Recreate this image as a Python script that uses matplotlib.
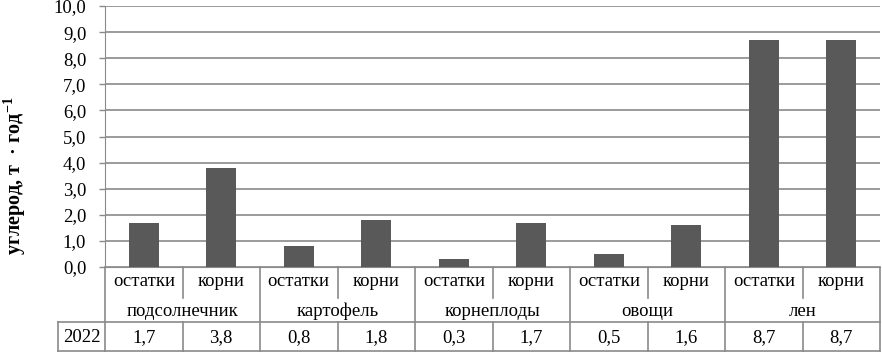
import numpy as np
import matplotlib
matplotlib.use("Agg")
import matplotlib.pyplot as plt
import matplotlib.transforms as mtransforms

serif = "Liberation Serif"
plt.rcParams['font.family'] = 'serif'
plt.rcParams['font.serif'] = [serif, 'DejaVu Serif']
plt.rcParams['mathtext.fontset'] = 'custom'
plt.rcParams['mathtext.rm'] = serif
plt.rcParams['mathtext.bf'] = serif + ':bold'

crops = ["подсолнечник", "картофель", "корнеплоды", "овощи", "лен"]
parts = ["остатки", "корни"]
year = "2022"
values = [1.7, 3.8, 0.8, 1.8, 0.3, 1.7, 0.5, 1.6, 8.7, 8.7]
value_labels = ["1,7", "3,8", "0,8", "1,8", "0,3", "1,7", "0,5", "1,6", "8,7", "8,7"]
yticks = np.arange(0, 11, 1)

line_c = "#8a8a8a"
bar_c = "#595959"
fs = 13.5

fig = plt.figure(figsize=(8.82, 3.52), dpi=100)
ax = fig.add_axes([105/882, 85/352, 775/882, 261/352])

x = np.arange(len(values))
ax.bar(x, values, width=0.39, color=bar_c, zorder=3)
ax.set_xlim(-0.5, len(values) - 0.5)
ax.set_ylim(0, 10)
ax.set_yticks(yticks)
ax.set_yticklabels([f"{v:.1f}".replace(".", ",") for v in yticks], fontsize=fs, family=serif)
ax.set_xticks([])
ax.grid(axis="y", color=line_c, linewidth=1.2, zorder=0)
for s in ["top", "right"]:
    ax.spines[s].set_visible(False)
ax.spines["left"].set_color(line_c)
ax.spines["bottom"].set_color(line_c)
ax.tick_params(axis="y", color=line_c, length=4.5, width=1, pad=9)

tr = mtransforms.blended_transform_factory(ax.transData, ax.transAxes)

def vline(xx, y0, y1):
    ax.plot([xx, xx], [y0, y1], color=line_c, lw=1.2, transform=tr, clip_on=False)

def hline(x0, x1, yy):
    ax.plot([x0, x1], [yy, yy], color=line_c, lw=1.2, transform=tr, clip_on=False)

y_sub = -0.056
y_cat = -0.17
y_top = -0.211
y_bot = -0.322
y_val = -0.27
x_left = -1.106

# table text
for i in range(len(values)):
    ax.text(x[i], y_sub, parts[i % 2], transform=tr, ha="center", va="center", fontsize=fs, family=serif)
    ax.text(x[i], y_val, value_labels[i], transform=tr, ha="center", va="center", fontsize=fs, family=serif)
for j, c in enumerate(crops):
    ax.text(2*j + 0.5, y_cat, c, transform=tr, ha="center", va="center", fontsize=fs, family=serif)
ax.text((x_left - 0.5) / 2, y_val, year, transform=tr, ha="center", va="center", fontsize=fs, family=serif)

# table lines
vline(-0.5, 0, y_bot)
for j in range(len(crops)):
    vline(2*j + 0.5, 0, -0.119)
    vline(2*j + 0.5, y_top, y_bot)
    vline(2*j + 1.5, 0, y_bot)
vline(x_left, y_top, y_bot)
hline(x_left, len(values) - 0.5, y_top)
hline(x_left, len(values) - 0.5, y_bot)

fig.text(15/882, 0.5, r"углерод, т  · год$^{\mathbf{-1}}$", rotation=90,
         ha="center", va="center", fontsize=14.5, fontweight="bold", family=serif)

fig.savefig("out.png", dpi=100)
